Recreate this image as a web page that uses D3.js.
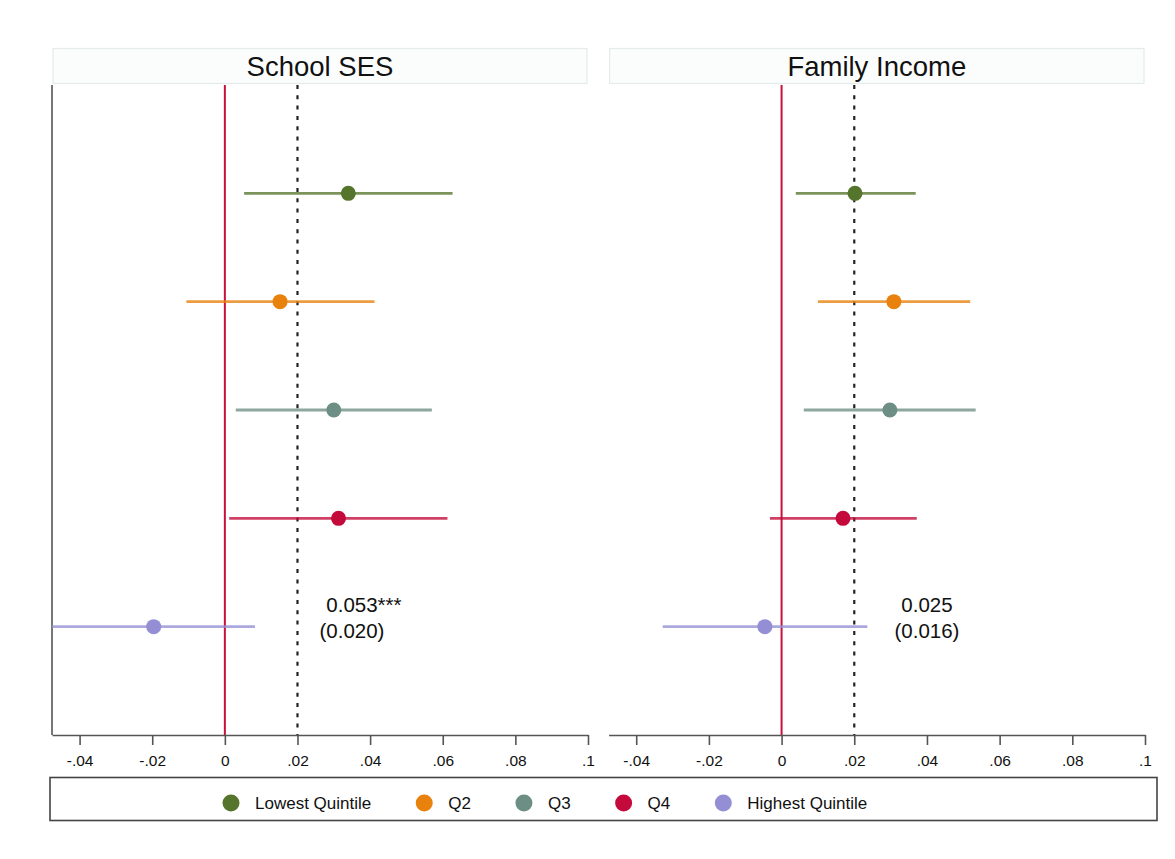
<!DOCTYPE html>
<html>
<head>
<meta charset="utf-8">
<script src="https://cdn.jsdelivr.net/npm/d3@7/dist/d3.min.js"></script>
<style>
  html, body { margin: 0; padding: 0; background: #ffffff; }
  svg { display: block; font-family: "Liberation Sans", Arial, sans-serif; }
</style>
</head>
<body>
<svg id="chart" width="1175" height="859"></svg>
<script>
// Quintile groups, shown top to bottom in each panel
const quintiles = ["Lowest Quintile", "Q2", "Q3", "Q4", "Highest Quintile"];
const quintileColors = ["#56752c", "#e8820c", "#6d8e84", "#c30a3a", "#948fd4"];

const panelTitles = ["School SES", "Family Income"];

// Point estimates and confidence bounds, School SES panel
const schoolEst = [0.0340, 0.0152, 0.0300, 0.0313, -0.0196];
const schoolLo  = [0.0053, -0.0106, 0.0030, 0.0012, -0.0476];
const schoolHi  = [0.0627, 0.0412, 0.0570, 0.0613, 0.0083];

// Point estimates and confidence bounds, Family Income panel
const incomeEst = [0.0202, 0.0309, 0.0298, 0.0169, -0.0046];
const incomeLo  = [0.0039, 0.0100, 0.0061, -0.0032, -0.0327];
const incomeHi  = [0.0369, 0.0519, 0.0534, 0.0372, 0.0236];

// Pooled coefficient and standard error printed in each panel
const pooledCoef  = ["0.053", "0.025"];
const pooledStars = ["***", ""];
const pooledSE    = ["(0.020)", "(0.016)"];
const pooledLabelX = [0.035, 0.040];

// Reference lines
const zeroLine = 0;
const pooledLine = 0.02;

// Axis ticks
const tickValues = [-0.04, -0.02, 0, 0.02, 0.04, 0.06, 0.08, 0.1];
const tickLabels = ["-.04", "-.02", "0", ".02", ".04", ".06", ".08", ".1"];
const xDomain = [-0.0476, 0.1];

const panelData = [
  { est: schoolEst, lo: schoolLo, hi: schoolHi },
  { est: incomeEst, lo: incomeLo, hi: incomeHi }
];

const svg = d3.select("#chart");

const panelLayout = [
  { x0: 52, x1: 588, showYLine: true },
  { x0: 608.6, x1: 1145, showYLine: false }
];
const plotTop = 85, plotBottom = 735;

const y = d3.scaleLinear().domain([0, quintiles.length + 1]).range([plotTop, plotBottom]);

panelLayout.forEach((lay, p) => {
  const x = d3.scaleLinear().domain(xDomain).range([lay.x0, lay.x1]);
  const g = svg.append("g");
  const data = quintiles.map((q, i) => ({
    q, i, color: quintileColors[i],
    est: panelData[p].est[i], lo: panelData[p].lo[i], hi: panelData[p].hi[i]
  }));

  // Panel title strip
  g.append("rect")
    .attr("x", lay.x0 + 1).attr("y", 48.5)
    .attr("width", lay.x1 - lay.x0 - 2).attr("height", 35)
    .attr("fill", "#fbfdfd").attr("stroke", "#e3ebeb").attr("stroke-width", 1.2);
  g.append("text")
    .attr("x", (lay.x0 + lay.x1) / 2).attr("y", 75.5)
    .attr("text-anchor", "middle")
    .attr("font-size", 27.5).attr("fill", "#111")
    .text(panelTitles[p]);

  // Left axis line
  if (lay.showYLine) {
    g.append("line")
      .attr("x1", lay.x0).attr("x2", lay.x0)
      .attr("y1", plotTop).attr("y2", plotBottom)
      .attr("stroke", "#555").attr("stroke-width", 1.6);
  }

  // Zero line
  g.append("line")
    .attr("x1", x(zeroLine)).attr("x2", x(zeroLine))
    .attr("y1", plotTop).attr("y2", plotBottom)
    .attr("stroke", "#c9103c").attr("stroke-width", 2);

  // Pooled-estimate dotted line
  g.append("line")
    .attr("x1", x(pooledLine)).attr("x2", x(pooledLine))
    .attr("y1", plotTop).attr("y2", plotBottom)
    .attr("stroke", "#222").attr("stroke-width", 2.2)
    .attr("stroke-dasharray", "4 6.3");

  // Confidence intervals
  g.selectAll("line.ci").data(data).join("line")
    .attr("class", "ci")
    .attr("x1", d => x(d.lo)).attr("x2", d => x(d.hi))
    .attr("y1", d => y(d.i + 1)).attr("y2", d => y(d.i + 1))
    .attr("stroke", d => d.color).attr("stroke-opacity", 0.78)
    .attr("stroke-width", 2.8);

  // Point estimates
  g.selectAll("circle.pt").data(data).join("circle")
    .attr("class", "pt")
    .attr("cx", d => x(d.est)).attr("cy", d => y(d.i + 1))
    .attr("r", 7.5).attr("fill", d => d.color);

  // Pooled coefficient label
  const ly = y(quintiles.length);
  const coef = g.append("text")
    .attr("x", x(pooledLabelX[p])).attr("y", ly - 15)
    .attr("text-anchor", "middle")
    .attr("font-size", 20.5).attr("fill", "#111")
    .text(pooledCoef[p]);
  if (pooledStars[p]) {
    const w = coef.node().getComputedTextLength();
    g.append("text")
      .attr("x", x(pooledLabelX[p]) + w / 2).attr("y", ly - 15)
      .attr("font-size", 20.5).attr("fill", "#111")
      .text(pooledStars[p]);
  }
  g.append("text")
    .attr("x", x(pooledLabelX[p])).attr("y", ly + 11)
    .attr("text-anchor", "middle")
    .attr("font-size", 20.5).attr("fill", "#111")
    .text(pooledSE[p]);

  // X axis
  const axis = d3.axisBottom(x)
    .tickValues(tickValues)
    .tickFormat((d, i) => tickLabels[i])
    .tickSize(10).tickSizeOuter(0).tickPadding(10);
  const ax = g.append("g")
    .attr("transform", `translate(0,${plotBottom})`)
    .call(axis);
  ax.select(".domain").attr("stroke", "#555").attr("stroke-width", 1.6);
  ax.selectAll(".tick line").attr("stroke", "#555").attr("stroke-width", 1.6);
  ax.selectAll(".tick text")
    .attr("font-size", 15.5).attr("fill", "#111")
    .attr("font-family", "\"Liberation Sans\", Arial, sans-serif");
});

// Legend: keys laid out left to right, each after the previous label
const legend = svg.append("g");
legend.append("rect")
  .attr("x", 50).attr("y", 777.5).attr("width", 1107).attr("height", 43)
  .attr("fill", "#fff").attr("stroke", "#444").attr("stroke-width", 1.6);

const legendStart = 231, keyToText = 24, itemGap = 53;
let cursor = legendStart;
quintiles.forEach((q, i) => {
  const item = legend.append("g").attr("transform", `translate(${cursor},803)`);
  item.append("circle").attr("r", 8.5).attr("fill", quintileColors[i]);
  const t = item.append("text")
    .attr("x", keyToText).attr("y", 6)
    .attr("font-size", 17).attr("fill", "#111")
    .text(q);
  cursor += keyToText + t.node().getComputedTextLength() + itemGap;
});
</script>
</body>
</html>
